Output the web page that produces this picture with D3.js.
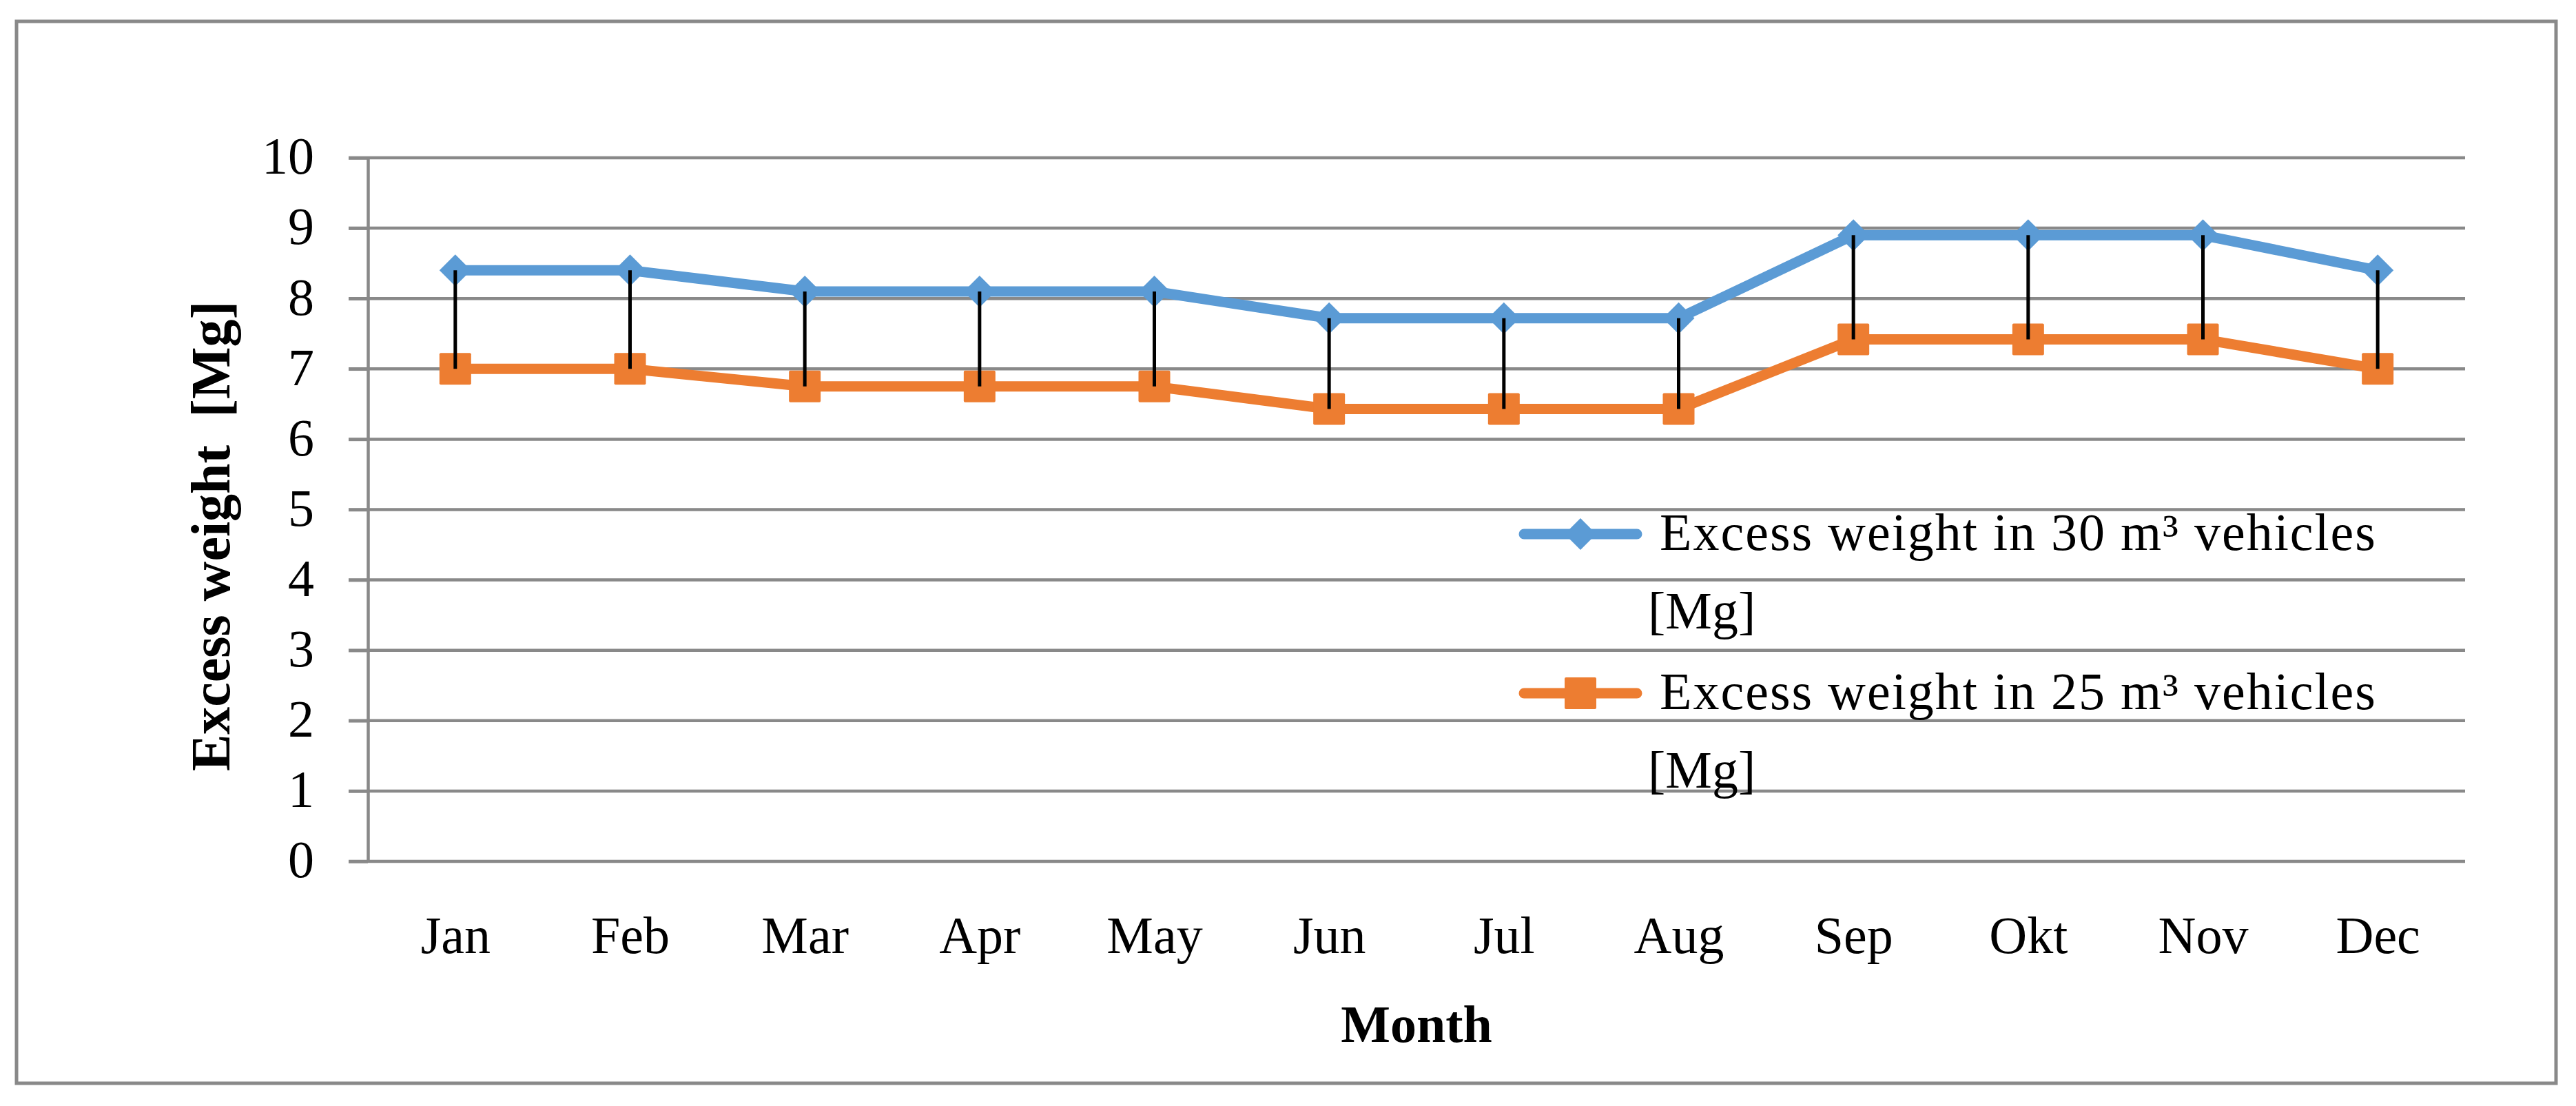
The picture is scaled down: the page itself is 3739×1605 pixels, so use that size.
<!DOCTYPE html>
<html>
<head>
<meta charset="utf-8">
<script src="https://cdn.jsdelivr.net/npm/d3@7"></script>
<style>
  html, body { margin: 0; padding: 0; background: #fff; }
  svg { display: block; }
  text { font-family: "Liberation Serif", "Times New Roman", serif; fill: #000; }
</style>
</head>
<body>
<div id="chart"></div>
<script>
const months = ["Jan","Feb","Mar","Apr","May","Jun","Jul","Aug","Sep","Okt","Nov","Dec"];
const excess30 = [8.4, 8.4, 8.1, 8.1, 8.1, 7.72, 7.72, 7.72, 8.9, 8.9, 8.9, 8.4];
const excess25 = [7.0, 7.0, 6.75, 6.75, 6.75, 6.43, 6.43, 6.43, 7.42, 7.42, 7.42, 7.0];
const yTicks = [0,1,2,3,4,5,6,7,8,9,10];
const seriesNames = ["Excess weight in 30 m\u00B3 vehicles", "Excess weight in 25 m\u00B3 vehicles"];
const yTitle = "Excess weight\u00A0 [Mg]";
const xTitle = "Month";

const W = 3739, H = 1605;
const plot = {left: 534, right: 3578, top: 229, bottom: 1250};
const gridColor = "#898989";
const blue = "#5B9BD5", orange = "#ED7D31";
const fs = 76;

const svg = d3.select("#chart").append("svg").attr("width", W).attr("height", H);

// outer frame
svg.append("rect").attr("x", 24).attr("y", 31).attr("width", 3686).attr("height", 1541)
  .attr("fill", "none").attr("stroke", gridColor).attr("stroke-width", 5);

const x = d3.scalePoint().domain(months).range([plot.left, plot.right]).padding(0.5);
const y = d3.scaleLinear().domain([0, 10]).range([plot.bottom, plot.top]);

// gridlines
svg.append("g").selectAll("line").data(yTicks).join("line")
  .attr("x1", plot.left - 28).attr("x2", plot.right)
  .attr("y1", d => y(d)).attr("y2", d => y(d))
  .attr("stroke", gridColor).attr("stroke-width", 4.5);

// y axis
const yAxis = svg.append("g").attr("transform", `translate(${plot.left},0)`)
  .call(d3.axisLeft(y).tickValues(yTicks).tickSize(28).tickSizeOuter(0).tickPadding(50));
yAxis.select(".domain").attr("stroke", gridColor).attr("stroke-width", 4.5);
yAxis.selectAll(".tick line").attr("stroke", gridColor).attr("stroke-width", 4.5);
yAxis.selectAll("text").attr("font-size", fs).attr("font-family", "Liberation Serif").attr("dy", "0.3em");

// x axis labels
const xAxis = svg.append("g").attr("transform", `translate(0,${plot.bottom})`)
  .call(d3.axisBottom(x).tickSize(0).tickSizeOuter(0));
xAxis.select(".domain").remove();
xAxis.selectAll("text").attr("font-size", fs).attr("font-family", "Liberation Serif")
  .attr("y", 133).attr("dy", 0);

// titles
svg.append("text").attr("x", (plot.left + plot.right) / 2).attr("y", 1512)
  .attr("text-anchor", "middle").attr("font-size", fs).attr("font-weight", "bold").text(xTitle);
svg.append("text").attr("transform", `translate(333,778) rotate(-90)`)
  .attr("text-anchor", "middle").attr("font-size", 80).attr("font-weight", "bold").text(yTitle);

// series lines
const line = d3.line().x((d, i) => x(months[i])).y(d => y(d));
[[excess30, blue], [excess25, orange]].forEach(([vals, col]) => {
  svg.append("path").datum(vals).attr("d", line).attr("fill", "none")
    .attr("stroke", col).attr("stroke-width", 15).attr("stroke-linejoin", "round").attr("stroke-linecap", "round");
});

// markers
const diamond = (cx, cy, r) => `M${cx},${cy - r}L${cx + r},${cy}L${cx},${cy + r}L${cx - r},${cy}Z`;
svg.append("g").selectAll("path").data(excess30).join("path")
  .attr("d", (d, i) => diamond(x(months[i]), y(d), 23)).attr("fill", blue);
svg.append("g").selectAll("rect").data(excess25).join("rect")
  .attr("x", (d, i) => x(months[i]) - 23).attr("y", d => y(d) - 23)
  .attr("width", 46).attr("height", 46).attr("rx", 2).attr("fill", orange);

// high-low lines
svg.append("g").selectAll("line").data(months).join("line")
  .attr("x1", d => x(d)).attr("x2", d => x(d))
  .attr("y1", (d, i) => y(excess30[i])).attr("y2", (d, i) => y(excess25[i]))
  .attr("stroke", "#000").attr("stroke-width", 5);

// legend
const legend = svg.append("g");
const legItems = [
  {name: seriesNames[0], color: blue, type: "diamond", ly: 775},
  {name: seriesNames[1], color: orange, type: "square", ly: 1006}
];
legItems.forEach(it => {
  legend.append("line").attr("x1", 2212).attr("x2", 2376).attr("y1", it.ly).attr("y2", it.ly)
    .attr("stroke", it.color).attr("stroke-width", 15).attr("stroke-linecap", "round");
  if (it.type === "diamond") {
    legend.append("path").attr("d", diamond(2294, it.ly, 23)).attr("fill", it.color);
  } else {
    legend.append("rect").attr("x", 2271).attr("y", it.ly - 23).attr("width", 46).attr("height", 46)
      .attr("rx", 2).attr("fill", it.color);
  }
  legend.append("text").attr("x", 2409).attr("y", it.ly + 23).attr("font-size", fs)
    .attr("letter-spacing", 2).text(it.name);
  legend.append("text").attr("x", 2392).attr("y", it.ly + 137).attr("font-size", fs).text("[Mg]");
});
</script>
</body>
</html>
